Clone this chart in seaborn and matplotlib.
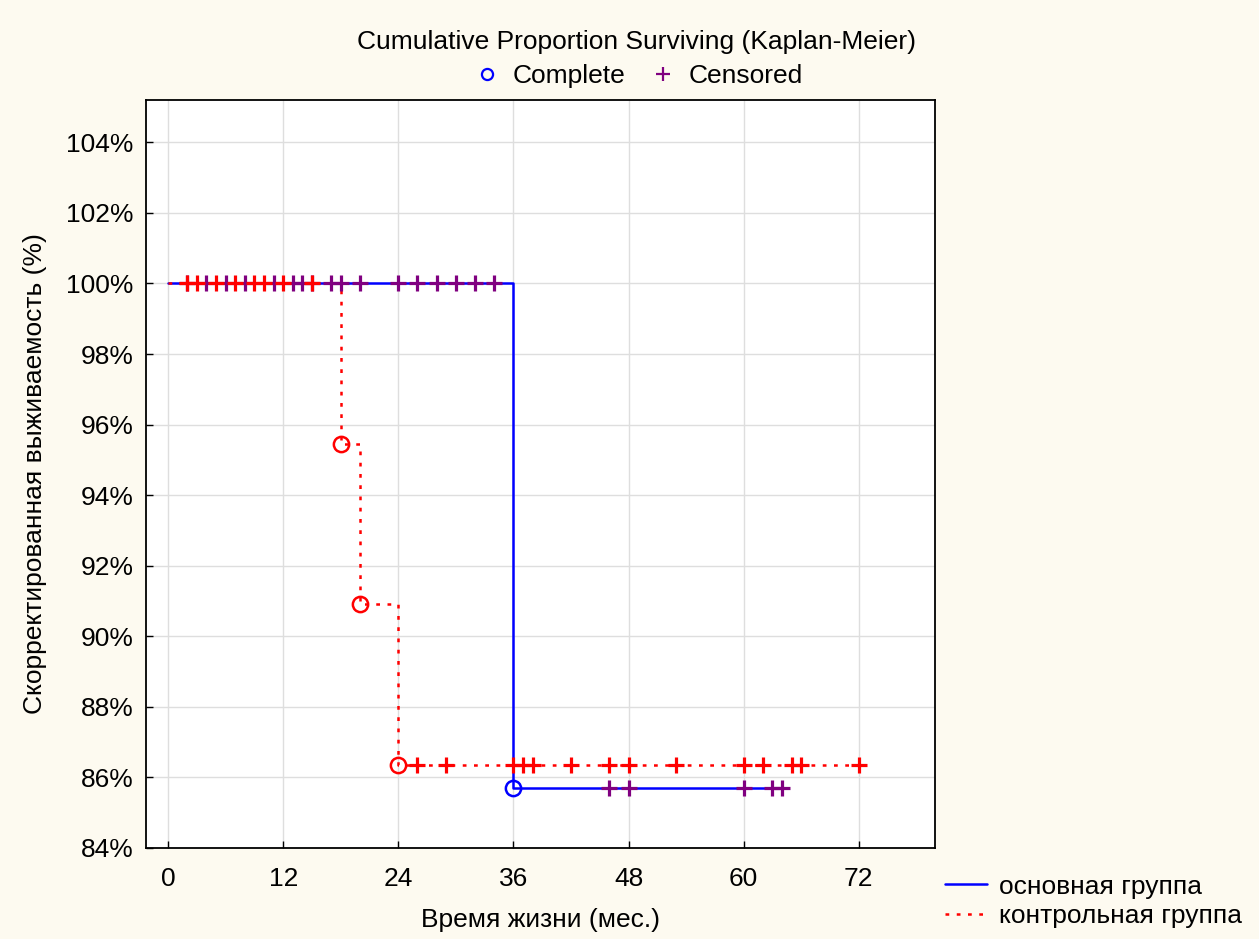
import numpy as np
import pandas as pd
import matplotlib
import seaborn as sns
import matplotlib.pyplot as plt
from matplotlib.lines import Line2D
from matplotlib.ticker import FuncFormatter

matplotlib.use('Agg')

# кривые Каплана-Мейера (ступеньки), % выживших
main_t = [0, 36, 64]
main_s = [100.0, 85.71, 85.71]
ctrl_t = [0, 18, 20, 24, 72]
ctrl_s = [100.0, 95.45, 90.91, 86.36, 86.36]

# полные наблюдения (события)
main_ev_t = [36]
main_ev_s = [85.71]
ctrl_ev_t = [18, 20, 24]
ctrl_ev_s = [95.45, 90.91, 86.36]

# цензурированные наблюдения
main_cens_t = [2, 4, 6, 8, 11, 13, 14, 15, 17, 18, 20, 24, 26, 28, 30, 32, 34,
               46, 48, 60, 63, 64]
main_cens_s = [100.0] * 17 + [85.71] * 5
ctrl_cens_t = [2, 3, 5, 7, 9, 10, 12, 15,
               26, 29, 36, 37, 38, 42, 46, 48, 53, 60, 62, 65, 66, 72]
ctrl_cens_s = [100.0] * 8 + [86.36] * 14

x_ticks = [0, 12, 24, 36, 48, 60, 72]
y_ticks = [84, 86, 88, 90, 92, 94, 96, 98, 100, 102, 104]

sns.set_theme(style='whitegrid')
plt.rcParams['font.family'] = ['Liberation Sans', 'DejaVu Sans']
plt.rcParams['text.color'] = 'black'

FS = 19
dots = (0, (1.5, 3))
bg = '#fdfaf0'
fig = plt.figure(figsize=(12.59, 9.39), dpi=100, facecolor=bg)
ax = fig.add_axes([0.116, 0.097, 0.627, 0.7965])
ax.set_facecolor('white')

main = pd.DataFrame({'t': main_t, 's': main_s})
ctrl = pd.DataFrame({'t': ctrl_t, 's': ctrl_s})

sns.lineplot(data=main, x='t', y='s', ax=ax, color='#0000ff', lw=1.8,
             drawstyle='steps-post', estimator=None, sort=False)
sns.lineplot(data=ctrl, x='t', y='s', ax=ax, color='#ff0000', lw=1.8,
             drawstyle='steps-post', estimator=None, sort=False,
             linestyle=dots)

ax.plot(main_cens_t, main_cens_s, ls='none', marker='+', ms=12, mew=2.3,
        color='#800080', zorder=3)
ax.plot(ctrl_cens_t, ctrl_cens_s, ls='none', marker='+', ms=12, mew=2.3,
        color='#ff0000', zorder=4)
ax.plot(main_ev_t, main_ev_s, ls='none', marker='o', ms=11, mew=1.8,
        mfc='none', mec='#0000ff', zorder=5)
ax.plot(ctrl_ev_t, ctrl_ev_s, ls='none', marker='o', ms=11, mew=1.8,
        mfc='none', mec='#ff0000', zorder=5)

ax.set_xlim(-2.3, 80)
ax.set_ylim(84, 105.2)
ax.set_xticks(x_ticks)
ax.set_yticks(y_ticks)
ax.yaxis.set_major_formatter(FuncFormatter(lambda v, p: f'{v:.0f}%'))
ax.grid(True, color='#dedede', lw=1)
for sp in ax.spines.values():
    sp.set_visible(True)
    sp.set_color('black')
    sp.set_linewidth(1.3)
ax.tick_params(axis='both', direction='in', length=5, width=1, color='black',
               labelsize=FS, labelcolor='black', bottom=True, left=True)
ax.tick_params(axis='x', pad=14)
ax.tick_params(axis='y', pad=9)

ax.set_xlabel('Время жизни (мес.)', fontsize=FS, color='black', labelpad=12)
ax.set_ylabel('Скорректированная выживаемость (%)', fontsize=FS,
              color='black', labelpad=14)

fig.text(0.5056, 0.955, 'Cumulative Proportion Surviving (Kaplan-Meier)',
         ha='center', va='center', fontsize=FS)

top_handles = [
    Line2D([], [], ls='none', marker='o', ms=8, mew=1.6, mfc='none',
           mec='#0000ff'),
    Line2D([], [], ls='none', marker='+', ms=10, mew=1.6, color='#800080'),
]
fig.legend(top_handles, ['Complete', 'Censored'], loc='center',
           bbox_to_anchor=(0.507, 0.919), ncol=2, frameon=False, fontsize=FS,
           handlelength=1.0, handletextpad=0.5, columnspacing=0.9)

right_handles = [
    Line2D([], [], color='#0000ff', lw=1.8),
    Line2D([], [], color='#ff0000', lw=1.8, ls=dots),
]
fig.legend(right_handles, ['основная группа', 'контрольная группа'],
           loc='lower left', bbox_to_anchor=(0.7315, -0.0135), frameon=False,
           fontsize=FS, handlelength=1.6, handletextpad=0.45,
           labelspacing=0.2)

fig.savefig('out.png', dpi=100, facecolor=bg)
